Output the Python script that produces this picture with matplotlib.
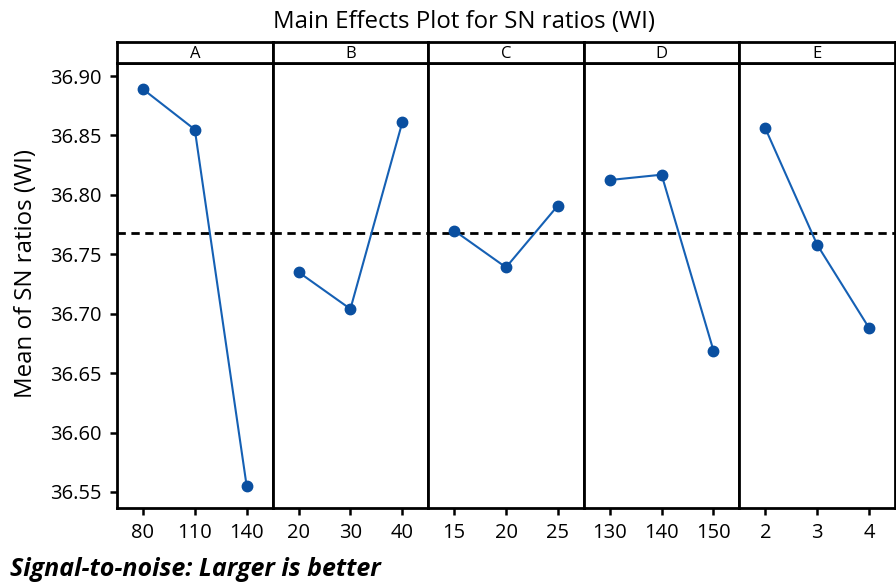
import matplotlib
matplotlib.use("Agg")
import matplotlib.pyplot as plt

plt.rcParams["font.family"] = ["Open Sans", "DejaVu Sans"]

# factor names, levels and mean SN ratios
factors = ["A", "B", "C", "D", "E"]
levels = [
    ["80", "110", "140"],
    ["20", "30", "40"],
    ["15", "20", "25"],
    ["130", "140", "150"],
    ["2", "3", "4"],
]
sn_means = [
    [36.889, 36.855, 36.555],
    [36.735, 36.704, 36.861],
    [36.770, 36.739, 36.791],
    [36.8125, 36.817, 36.669],
    [36.856, 36.758, 36.688],
]
grand_mean = 36.768
yticks = [36.55, 36.60, 36.65, 36.70, 36.75, 36.80, 36.85, 36.90]

W, H = 896, 583
fig = plt.figure(figsize=(W / 100, H / 100), dpi=100)

left_px, right_px = 117, 895
top_px, bottom_px, strip_px = 63, 508, 21
panel_w = (right_px - left_px) / len(factors)

line_col = "#1560B4"
mark_col = "#0A4FA0"

for i, (f, lv, vals) in enumerate(zip(factors, levels, sn_means)):
    x0 = (left_px + i * panel_w) / W
    ax = fig.add_axes([x0, 1 - bottom_px / H, panel_w / W, (bottom_px - top_px) / H])
    x = list(range(len(lv)))
    ax.plot(x, vals, color=line_col, lw=1.5, marker="o", ms=7.5,
            markerfacecolor=mark_col, markeredgecolor=mark_col, zorder=3)
    ax.axhline(grand_mean, color="black", lw=2, ls=(0, (3, 2)), zorder=2)
    ax.set_xlim(-0.5, 2.5)
    ax.set_ylim(36.5365, 36.911)
    ax.set_xticks(x)
    ax.set_xticklabels(lv)
    ax.set_yticks(yticks)
    ax.tick_params(axis="both", direction="out", length=5, width=1.8,
                   labelsize=14.5, pad=6)
    if i == 0:
        ax.set_yticklabels([f"{v:.2f}" for v in yticks])
    else:
        ax.tick_params(axis="y", left=False, labelleft=False)
    for s in ax.spines.values():
        s.set_linewidth(2)

    # header strip
    hx = fig.add_axes([x0, 1 - top_px / H, panel_w / W, strip_px / H])
    hx.set_xticks([])
    hx.set_yticks([])
    for s in hx.spines.values():
        s.set_linewidth(2)
    hx.text(0.5, 0.45, f, ha="center", va="center", fontsize=12,
            transform=hx.transAxes)

fig.text(26 / W, 1 - 274 / H, "Mean of SN ratios (WI)", rotation=90,
         ha="center", va="center", fontsize=17.3)
fig.text(464 / W, 1 - 22 / H, "Main Effects Plot for SN ratios (WI)",
         ha="center", va="center", fontsize=17.3)
fig.text(10 / W, 1 - 569 / H, "Signal-to-noise: Larger is better",
         ha="left", va="center", fontsize=18, fontweight="bold", style="italic")

fig.savefig("out.png", dpi=100)
